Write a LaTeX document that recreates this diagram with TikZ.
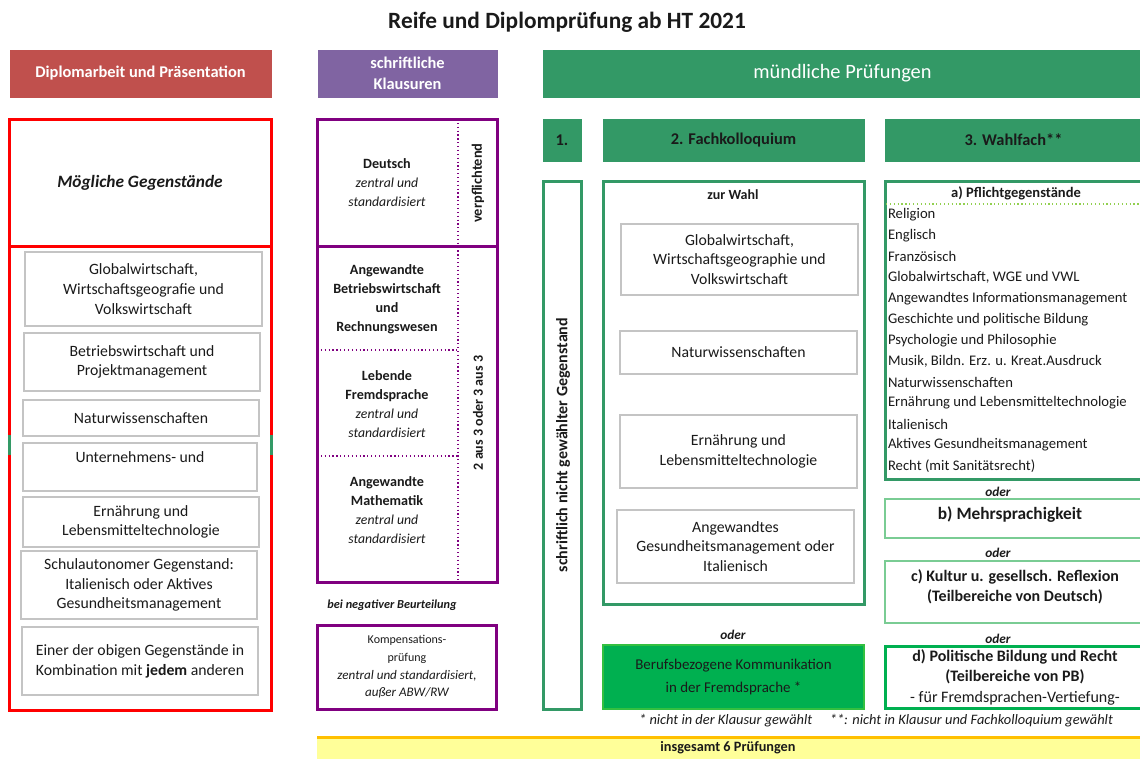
\documentclass[tikz,border=0pt]{standalone}
\usepackage{fontspec}
\setmainfont{Carlito}
\usetikzlibrary{shadows}
\definecolor{hred}{HTML}{C0504D}
\definecolor{hpurp}{HTML}{8064A2}
\definecolor{hgreen}{HTML}{339966}
\definecolor{bpurp}{HTML}{800080}
\definecolor{bgreen}{HTML}{339966}
\definecolor{lgreen}{HTML}{7ACC94}
\definecolor{vgreen}{HTML}{00B050}
\definecolor{ygreen}{HTML}{92D050}
\definecolor{ybarc}{HTML}{FFFF99}
\definecolor{obar}{HTML}{FFC000}
\definecolor{gboxc}{HTML}{C4C4C4}
\definecolor{txt}{HTML}{1A1A1A}
\newcommand\bx[7][]{\node[#1, minimum width={(#5-#3)*0.75pt}, minimum height={(#6-#4)*0.75pt}] (#2) at ({(#3+#5)/2},{(#4+#6)/2}) {#7};}
\newcommand\fs[2]{\fontsize{#1}{#2}\selectfont}
\newcommand\itl[1]{{\fs{10.3}{14.3}\mdseries\itshape #1}}
\begin{document}
\begin{tikzpicture}[x=0.75pt,y=-0.75pt,
  every node/.style={inner sep=0pt, outer sep=0pt, align=center, text=txt},
  hdr/.style={fill=#1, draw=#1, text=white, font=\fs{12.3}{15.75}\bfseries},
  redbox/.style={draw=red, line width=2.25pt},
  purpbox/.style={draw=bpurp, line width=2.25pt},
  pdot/.style={draw=bpurp, dotted, line width=0.9pt},
  grbox/.style={draw=bgreen, line width=2.25pt},
  lgbox/.style={draw=lgreen, line width=2pt},
  vgbox/.style={draw=vgreen, line width=2.25pt},
  gfill/.style={fill=hgreen, draw=hgreen, font=\fs{12.3}{14}\bfseries},
  gbox/.style={draw=gboxc, line width=0.9pt, fill=white,
     drop shadow={shadow xshift=0.8pt, shadow yshift=-0.8pt, fill=black!40, opacity=0.35},
     font=\fs{11.8}{14.8}},
  ptxt/.style={font=\fs{10.6}{14.3}\bfseries},
  rot/.style={rotate=90, font=\fs{10.5}{12}\bfseries},
  oder/.style={font=\fs{10}{12}\bfseries\itshape},
  litem/.style={anchor=west, font=\fs{11}{13}}
]
\useasboundingbox (0,0) rectangle (1140,758);

% title
\node[font=\fs{17.5}{20}\bfseries] (title) at (567,22) {Reife und Diplomprüfung ab HT 2021};

% headers
\bx[hdr=hred]{hdip}{10}{50}{271}{97}{Diplomarbeit und Präsentation}
\bx[hdr=hpurp]{hklau}{318}{50}{497}{97}{schriftliche\\Klausuren}
\bx[hdr=hgreen, font=\fs{15.3}{17}]{hmue}{543}{50}{1142}{97}{mündliche Prüfungen}

% ---- left column
\bx[redbox]{mg}{9}{119}{271}{246}{\fs{13}{15}\bfseries\itshape Mögliche Gegenstände}
\bx[redbox]{dl}{9}{246}{271}{710}{}
\coordinate (gl1) at (9,435); \coordinate (gl2) at (9,455);
\coordinate (gr1) at (271,435); \coordinate (gr2) at (271,455);
\draw[bgreen, line width=2.25pt] (gl1) -- (gl2) (gr1) -- (gr2);

\bx[gbox]{l1}{25}{252}{262}{326}{Globalwirtschaft,\\Wirtschaftsgeografie und\\Volkswirtschaft}
\bx[gbox]{l2}{24}{333}{260}{391}{Betriebswirtschaft und\\Projektmanagement}
\bx[gbox]{l3}{23}{400}{259}{436}{Naturwissenschaften}
\bx[gbox]{l4}{23}{443}{257}{491}{Unternehmens- und\\\mbox{}}
\bx[gbox]{l5}{23}{497}{259}{547}{Ernährung und\\Lebensmitteltechnologie}
\bx[gbox]{l6}{21}{551}{257}{619}{Schulautonomer Gegenstand:\\Italienisch oder Aktives\\Gesundheitsmanagement}
\bx[gbox]{l7}{22}{627}{258}{695}{Einer der obigen Gegenstände in\\Kombination mit \textbf{jedem} anderen}

% ---- purple column
\bx[purpbox]{pd}{317}{119}{497}{246}{}
\bx[purpbox]{pm}{317}{246}{497}{582}{}
\coordinate (v1) at (458,119); \coordinate (v2) at (458,582);
\coordinate (h1a) at (317,350); \coordinate (h1b) at (458,350);
\coordinate (h2a) at (317,456); \coordinate (h2b) at (458,456);
\draw[pdot] (v1) -- (v2);
\draw[pdot] (h1a) -- (h1b);
\draw[pdot] (h2a) -- (h2b);

\node[ptxt] (deu) at (387,183) {Deutsch\\\itl{zentral und}\\\itl{standardisiert}};
\node[ptxt] (abw) at (387,299) {Angewandte\\Betriebswirtschaft\\und\\Rechnungswesen};
\node[ptxt] (lfs) at (387,404) {Lebende\\Fremdsprache\\\itl{zentral und}\\\itl{standardisiert}};
\node[ptxt] (mat) at (387,510) {Angewandte\\Mathematik\\\itl{zentral und}\\\itl{standardisiert}};
\node[rot, font=\fs{10.8}{12}\bfseries] (verp) at (478,183) {verpflichtend};
\node[rot] (aus) at (478,413) {2 aus 3 oder 3 aus 3};

\node[oder, font=\fs{9.2}{11}\bfseries\itshape] (neg) at (392,605) {bei negativer Beurteilung};
\bx[purpbox]{komp}{317}{625}{496}{709}{}
\node[font=\fs{9}{13.3}] (kompt) at (407,667) {Kompensations-\\prüfung\\{\fs{9.8}{13.3}\itshape zentral und standardisiert,}\\{\fs{9.8}{13.3}\itshape außer ABW/RW}};

% ---- green part
\bx[gfill]{one}{543}{119}{581}{161}{1.}
\bx[gfill]{fk}{603}{119}{864}{161}{2. Fachkolloquium}
\bx[gfill]{wf}{885}{119}{1142}{161}{3. Wahlfach**}

\bx[grbox]{sng}{543}{181}{581}{709}{}
\node[rot, font=\fs{12}{14}\bfseries] (sngt) at (563,445) {schriftlich nicht gewählter Gegenstand};

\bx[grbox]{fkb}{603}{181}{864}{604}{}
\node[font=\fs{10.5}{12}\bfseries] (zw) at (733,195) {zur Wahl};
\bx[gbox]{f1}{621}{224}{858}{295}{Globalwirtschaft,\\Wirtschaftsgeographie und\\Volkswirtschaft}
\bx[gbox]{f2}{620}{331}{857}{374}{Naturwissenschaften}
\bx[gbox]{f3}{620}{415}{857}{488}{Ernährung und\\Lebensmitteltechnologie}
\bx[gbox]{f4}{617}{510}{854}{583}{Angewandtes\\Gesundheitsmanagement oder\\Italienisch}

\node[oder] (oder1) at (733,635) {oder};
\bx[fill=vgreen, draw=vgreen!80!yellow, line width=1pt, font=\fs{11.2}{17}]{bk}{603}{645}{864}{709}{Berufsbezogene Kommunikation\\in der Fremdsprache *}

\node[font=\fs{10.8}{12}\itshape] (fn) at (876,721) {* nicht in der Klausur gewählt\quad\ **: nicht in Klausur und Fachkolloquium gewählt};

% Wahlfach boxes
\bx[grbox]{wa}{885}{181}{1143}{479}{}
\node[font=\fs{10.9}{12}\bfseries] (wat) at (1016,193) {a) Pflichtgegenstände};
\coordinate (d1) at (886,204); \coordinate (d2) at (1140,204);
\draw[ygreen, dotted, line width=0.9pt] (d1) -- (d2);
\foreach \t [count=\i] in {Religion, Englisch, Französisch, {Globalwirtschaft, WGE und VWL},
  Angewandtes Informationsmanagement, Geschichte und politische Bildung,
  Psychologie und Philosophie, {Musik, Bildn. Erz. u. Kreat.Ausdruck},
  Naturwissenschaften, Ernährung und Lebensmitteltechnologie, Italienisch,
  Aktives Gesundheitsmanagement, Recht (mit Sanitätsrecht)}
  \node[litem] (li\i) at (888,{215+(\i-1)*20.9}) {\t};

\node[oder] (oder2) at (998,492) {oder};
\bx[lgbox]{wb}{885}{499}{1143}{538}{}
\node[font=\fs{13}{15}\bfseries] (wbt) at (1010,515) {b) Mehrsprachigkeit};
\node[oder] (oder3) at (998,553) {oder};
\bx[lgbox]{wc}{885}{561}{1143}{623}{}
\node[font=\fs{12}{15}\bfseries] (wct) at (1015,587) {c) Kultur u. gesellsch. Reflexion\\(Teilbereiche von Deutsch)};
\node[oder] (oder4) at (998,639) {oder};
\bx[vgbox]{wd}{885}{646}{1143}{708}{}
\node[font=\fs{12}{15.4}\bfseries] (wdt) at (1015,677) {d) Politische Bildung und Recht\\(Teilbereiche von PB)\\{\mdseries - für Fremdsprachen-Vertiefung-}};

% bottom bar
\bx[fill=ybarc]{ins}{317}{737}{1143}{760}{}
\draw[obar, line width=2.25pt] (ins.north west) -- (ins.north east);
\node[font=\fs{10.7}{12}\bfseries] (inst) at (728,748) {insgesamt 6 Prüfungen};
\end{tikzpicture}
\end{document}
